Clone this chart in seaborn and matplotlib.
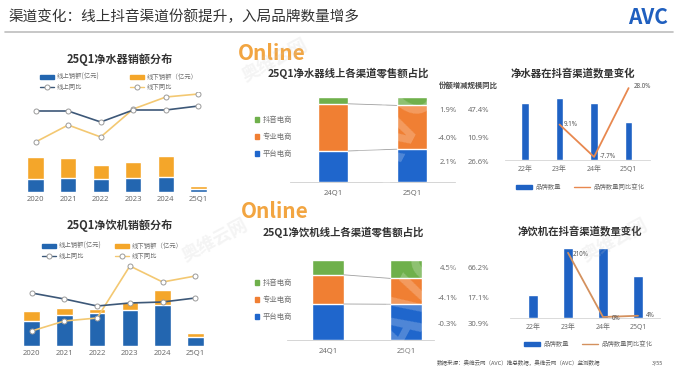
import numpy as np
import matplotlib
matplotlib.use('Agg')
import matplotlib.pyplot as plt
from matplotlib.patches import Patch
from matplotlib.lines import Line2D
import seaborn as sns

# --- data ---
years = ['2020', '2021', '2022', '2023', '2024', '25Q1']
purifier_online = [13, 14, 13, 14, 15, 3]
purifier_offline = [22, 20, 14, 16, 21, 3]
purifier_online_yoy = [21, 21, 10, 22, 22, 26]
purifier_offline_yoy = [-10, 7, -5, 23, 35, 38]

dispenser_online = [25, 31, 33, 36, 41, 9]
dispenser_offline = [10, 7, 4, 8, 15, 4]
dispenser_online_yoy = [13, 7, 0, 3, 4, 8]
dispenser_offline_yoy = [-25, -15, -12, 40, 24, 30]

quarters = ['24Q1', '25Q1']
channels = ['平台电商', '专业电商', '抖音电商']
purifier_share_24 = [36.5, 55.5, 8.0]
purifier_share_25 = [38.6, 51.5, 9.9]
purifier_share_chg = [2.1, -4.0, 1.9]
purifier_scale_yoy = [26.6, 10.9, 47.4]
dispenser_share_24 = [45.0, 36.5, 18.5]
dispenser_share_25 = [44.7, 32.3, 23.0]
dispenser_share_chg = [-0.3, -4.1, 4.5]
dispenser_scale_yoy = [30.9, 17.1, 66.2]

periods = ['22年', '23年', '24年', '25Q1']
purifier_brands = [150, 164, 151, 100]
purifier_brand_yoy = [np.nan, 9.1, -7.7, 28.0]
dispenser_brands = [31, 96, 96, 57]
dispenser_brand_yoy = [np.nan, 210, 0, 4]

# --- colours ---
BLUE_ON = '#2366B0'
ORANGE_OFF = '#F4A62A'
NAVY_LINE = '#3D5878'
GOLD_LINE = '#F3C872'
CH_COLORS = ['#1F66CC', '#F07F33', '#6FB04B']
BRAND_BLUE = '#1F62C4'
GRAY_TXT = '#6E6E6E'
TICK_FONT = ['Noto Sans', 'Noto Sans CJK SC']

sns.set_theme(style='white')
plt.rcParams['font.family'] = ['Noto Sans CJK SC', 'DejaVu Sans']
plt.rcParams['axes.unicode_minus'] = False

W, H = 678, 381
fig = plt.figure(figsize=(W / 100, H / 100), dpi=100)
fig.patch.set_facecolor('white')


def px_axes(l, t, w, h):
    return fig.add_axes([l / W, 1 - (t + h) / H, w / W, h / H])


def fx(x):
    return x / W


def fy(y):
    return 1 - y / H


def clean(a, keep_bottom=False):
    for name, s in a.spines.items():
        s.set_visible(keep_bottom and name == 'bottom')
    a.set_yticks([])
    a.set_ylabel('')
    a.set_xlabel('')


def style_ticks(a, size, pad):
    # baseline alignment keeps "25Q1" level with the plain-digit labels
    a.tick_params(axis='x', length=0, labelsize=size, labelcolor=GRAY_TXT,
                  pad=pad + size * 0.75)
    for lbl in a.get_xticklabels():
        lbl.set_family(TICK_FONT)
        lbl.set_verticalalignment('baseline')


def sales_panel(box, xlim, online, offline, on_yoy, off_yoy, bar_top, yoy_lim,
                legend_xy, colspace):
    ax = px_axes(*box)
    total = np.array(online) + np.array(offline)
    sns.barplot(x=years, y=total, color=ORANGE_OFF, saturation=1, width=0.5, ax=ax)
    sns.barplot(x=years, y=online, color=BLUE_ON, saturation=1, width=0.5, ax=ax)
    ax.set_xlim(*xlim)
    ax.set_ylim(0, bar_top)
    clean(ax)
    style_ticks(ax, 5.5, 2.5)

    ax2 = px_axes(*box)
    ax2.patch.set_alpha(0)
    xs = np.arange(len(years))
    mk = dict(marker='o', markersize=3.6, markerfacecolor='white',
              markeredgecolor='#9a9a9a', markeredgewidth=0.7)
    sns.lineplot(x=xs, y=off_yoy, ax=ax2, color=GOLD_LINE, lw=1.2, **mk)
    sns.lineplot(x=xs, y=on_yoy, ax=ax2, color=NAVY_LINE, lw=1.2, **mk)
    ax2.set_xlim(*xlim)
    ax2.set_ylim(*yoy_lim)
    clean(ax2)
    ax2.set_xticks([])

    handles = [Patch(color=BLUE_ON), Line2D([], [], color=NAVY_LINE, lw=1, **mk),
               Patch(color=ORANGE_OFF), Line2D([], [], color=GOLD_LINE, lw=1, **mk)]
    labels = ['线上销额(亿元)', '线上同比', '线下销额（亿元）', '线下同比']
    leg = ax2.legend(handles, labels, ncol=2, loc='upper left', frameon=False,
                     bbox_to_anchor=(fx(legend_xy[0]), fy(legend_xy[1])),
                     bbox_transform=fig.transFigure, fontsize=4.6,
                     handlelength=2.2, handleheight=0.5, handletextpad=0.4,
                     columnspacing=colspace, labelspacing=0.35, borderaxespad=0,
                     borderpad=0)
    for t in leg.get_texts():
        t.set_color(GRAY_TXT)


def share_panel(box, xlim, width, share24, share25, chg, yoy, rows_y, header):
    ax = px_axes(*box)
    cum = np.cumsum(np.array([share24, share25]), axis=1)
    for k in range(2, -1, -1):
        sns.barplot(x=quarters, y=cum[:, k], color=CH_COLORS[k], saturation=1,
                    width=width, ax=ax)
    for k in range(2):
        ax.plot([width / 2, 1 - width / 2], [cum[0, k], cum[1, k]],
                color='#a0a0a0', lw=0.6)
    ax.set_xlim(*xlim)
    ax.set_ylim(0, 100)
    clean(ax, keep_bottom=True)
    ax.spines['bottom'].set_color('#cfcfcf')
    ax.spines['bottom'].set_linewidth(0.6)
    style_ticks(ax, 5.5, 5)

    handles = [Patch(color=CH_COLORS[k]) for k in (2, 1, 0)]
    labels = [channels[k] for k in (2, 1, 0)]
    leg = ax.legend(handles, labels, loc='upper left', frameon=False,
                    bbox_to_anchor=(fx(255), fy(box[1] + 19)),
                    bbox_transform=fig.transFigure, fontsize=5.3,
                    handlelength=0.6, handleheight=0.6, handletextpad=0.5,
                    labelspacing=1.25, borderaxespad=0, borderpad=0)
    for t in leg.get_texts():
        t.set_color(GRAY_TXT)

    if header:
        fig.text(fx(468), fy(85), '份额增减规模同比', fontsize=5.3, weight='bold',
                 color='#444444', ha='center', va='center')
    for k, y in zip((2, 1, 0), rows_y):
        fig.text(fx(457), fy(y), f'{chg[k]:.1f}%', fontsize=5.5, color=GRAY_TXT,
                 ha='right', va='center', family=TICK_FONT)
        fig.text(fx(489), fy(y), f'{yoy[k]:.1f}%', fontsize=5.5, color=GRAY_TXT,
                 ha='right', va='center', family=TICK_FONT)


def brand_panel(box, xlim, width, counts, count_top, yoy, yoy_lim, line_color,
                fmt, offsets, legend_xy):
    ax = px_axes(*box)
    sns.barplot(x=periods, y=counts, color=BRAND_BLUE, saturation=1, width=width, ax=ax)
    ax.set_xlim(*xlim)
    ax.set_ylim(0, count_top)
    clean(ax, keep_bottom=True)
    ax.spines['bottom'].set_color('#d5d5d5')
    ax.spines['bottom'].set_linewidth(0.6)
    style_ticks(ax, 5, 4)

    ax2 = px_axes(*box)
    ax2.patch.set_alpha(0)
    xs = np.arange(len(periods))
    vals = np.array(yoy, dtype=float)
    mask = ~np.isnan(vals)
    sns.lineplot(x=xs[mask], y=vals[mask], ax=ax2, color=line_color, lw=1.3)
    ax2.set_xlim(*xlim)
    ax2.set_ylim(*yoy_lim)
    clean(ax2)
    ax2.set_xticks([])
    for x, v, (dx, dy) in zip(xs[mask], vals[mask], offsets):
        ax2.annotate(fmt.format(v), (x, v), xytext=(dx, dy), textcoords='offset points',
                     fontsize=4.5, color='#555555', ha='left', va='center',
                     family=TICK_FONT)

    handles = [Patch(color=BRAND_BLUE), Line2D([], [], color=line_color, lw=1)]
    leg = ax2.legend(handles, ['品牌数量', '品牌数量同比变化'], ncol=2, loc='center',
                     frameon=False, bbox_to_anchor=(fx(legend_xy[0]), fy(legend_xy[1])),
                     bbox_transform=fig.transFigure, fontsize=4.6,
                     handlelength=2.6, handleheight=0.5, handletextpad=0.5,
                     columnspacing=2.0, borderaxespad=0, borderpad=0)
    for t in leg.get_texts():
        t.set_color(GRAY_TXT)


# --- header ---
fig.text(fx(8), fy(17), '渠道变化：线上抖音渠道份额提升，入局品牌数量增多',
         fontsize=10.5, color='#333333', ha='left', va='center')
fig.add_artist(Line2D([fx(5), fx(673)], [fy(32), fy(32)], color='#bdbdbd', lw=1.2))
fig.text(fx(668), fy(18), 'AVC', fontsize=15, weight='bold',
         color='#1F5FBF', ha='right', va='center')

# --- left: sales distribution ---
fig.text(fx(120), fy(60), '25Q1净水器销额分布', fontsize=8, weight='bold',
         color='#333333', ha='center', va='center')
sales_panel((16, 92, 202, 100), (-0.6, 5.6), purifier_online, purifier_offline,
            purifier_online_yoy, purifier_offline_yoy, 100, (-60, 40), (40, 73), 4.8)

fig.text(fx(120), fy(226), '25Q1净饮机销额分布', fontsize=8, weight='bold',
         color='#333333', ha='center', va='center')
sales_panel((12, 262, 203, 84), (-0.6, 5.6), dispenser_online, dispenser_offline,
            dispenser_online_yoy, dispenser_offline_yoy, 84, (-40, 44), (42, 242), 2.1)

# --- middle: online channel shares ---
fig.text(fx(238), fy(54), 'Online', fontsize=15, weight='bold', color='#F2A541',
         ha='left', va='center')
fig.text(fx(348), fy(73), '25Q1净水器线上各渠道零售额占比', fontsize=7.5,
         weight='bold', color='#333333', ha='center', va='center')
share_panel((290, 97, 165, 85), (-0.544, 1.544), 0.39, purifier_share_24,
            purifier_share_25, purifier_share_chg, purifier_scale_yoy,
            (110, 139, 162), True)

fig.text(fx(241), fy(211), 'Online', fontsize=15, weight='bold', color='#F2A541',
         ha='left', va='center')
fig.text(fx(343), fy(232), '25Q1净饮机线上各渠道零售额占比', fontsize=7.5,
         weight='bold', color='#333333', ha='center', va='center')
share_panel((287, 260, 147, 80), (-0.526, 1.36), 0.4, dispenser_share_24,
            dispenser_share_25, dispenser_share_chg, dispenser_scale_yoy,
            (268, 298, 325), False)

# --- right: brand counts on Douyin ---
fig.text(fx(573), fy(73), '净水器在抖音渠道数量变化', fontsize=7.5, weight='bold',
         color='#333333', ha='center', va='center')
brand_panel((505, 85, 145, 75), (-0.58, 3.62), 0.22, purifier_brands, 197,
            purifier_brand_yoy, (-9.3, 29.6), '#E8884F', '{:.1f}%',
            [(3, 0), (4, 0), (4, 1)], (580, 187))

fig.text(fx(580), fy(231), '净饮机在抖音渠道数量变化', fontsize=7.5, weight='bold',
         color='#333333', ha='center', va='center')
brand_panel((510, 240, 150, 78), (-0.66, 3.63), 0.3, dispenser_brands, 107,
            dispenser_brand_yoy, (-3.3, 252), '#D4915E', '{:.0f}%',
            [(3, -1), (6, -1), (6, 0)], (588, 344))

# --- footer ---
fig.text(fx(437), fy(363), '数据来源：奥维云网（AVC）推总数据，奥维云网（AVC）监测数据',
         fontsize=4, color='#555555', ha='left', va='center')
fig.text(fx(652), fy(363), '3/55', fontsize=4, color='#555555', ha='left', va='center')

# --- faint watermarks ---
for x, y in [(400, 130), (420, 300)]:
    fig.text(fx(x), fy(y), 'AVC', fontsize=42, weight='bold', color='white',
             alpha=0.22, rotation=62, ha='center', va='center', zorder=10)
for x, y in [(275, 60), (215, 240), (615, 240)]:
    fig.text(fx(x), fy(y), '奥维云网', fontsize=13, weight='bold', color='#c8c8c8',
             alpha=0.2, rotation=28, ha='center', va='center', zorder=10)

fig.savefig('out.png', dpi=100)
